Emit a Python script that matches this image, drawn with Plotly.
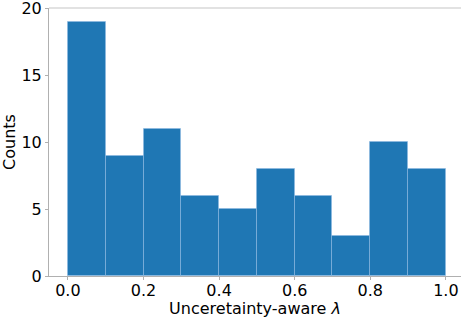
import plotly.graph_objects as go

bin_edges = [0.0, 0.1, 0.2, 0.3, 0.4, 0.5, 0.6, 0.7, 0.8, 0.9, 1.0]
counts = [19, 9, 11, 6, 5, 8, 6, 3, 10, 8]
x_ticks = [0.0, 0.2, 0.4, 0.6, 0.8, 1.0]
x_tick_labels = ["0.0", "0.2", "0.4", "0.6", "0.8", "1.0"]
y_ticks = [0, 5, 10, 15, 20]

centers = [(a + b) / 2 for a, b in zip(bin_edges[:-1], bin_edges[1:])]
widths = [b - a for a, b in zip(bin_edges[:-1], bin_edges[1:])]

fig = go.Figure(go.Bar(
    x=centers, y=counts, width=widths,
    marker=dict(color="#1f77b4", line=dict(color="rgba(140,185,225,0.6)", width=1)),
))

font = dict(family="DejaVu Sans", size=16, color="#000")
fig.update_layout(
    width=462, height=318,
    margin=dict(l=49, r=1, t=8, b=42),
    paper_bgcolor="white", plot_bgcolor="white",
    showlegend=False,
    font=font,
    bargap=0,
    shapes=[dict(type="line", xref="paper", yref="paper", x0=0, x1=1, y0=1, y1=1,
                 line=dict(color="#d9d9d9", width=1.5))],
)
fig.update_xaxes(
    range=[-0.05, 1.04], tickvals=x_ticks, ticktext=x_tick_labels,
    showgrid=False, zeroline=False, showline=True, linecolor="#b0b0b0", linewidth=1,
    ticks="outside", ticklen=3, tickcolor="#b0b0b0",
    title=dict(text="Unceretainty-aware <i>λ</i>", standoff=6, font=font),
    tickfont=font, automargin=False, ticklabelstandoff=-3,
)
fig.update_yaxes(
    range=[0, 20.05], tickvals=y_ticks, ticktext=[str(v) for v in y_ticks],
    tickmode="array",
    showgrid=False, zeroline=False, showline=True, linecolor="#b0b0b0", linewidth=1,
    ticks="outside", ticklen=3, tickcolor="#b0b0b0",
    title=dict(text="Counts", standoff=3, font=font),
    tickfont=font, automargin=False, ticklabeloverflow="allow",
)
fig.write_html(
    "out.html",
    config={"displayModeBar": False},
    post_script="document.body.style.margin='0px';document.body.style.overflow='hidden';",
)
